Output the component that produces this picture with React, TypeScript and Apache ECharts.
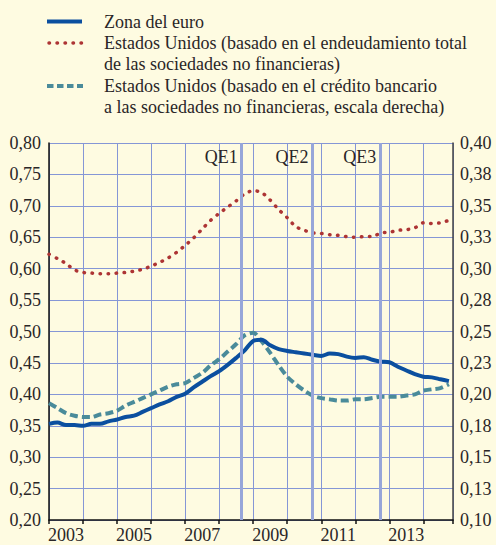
import React, { useEffect, useRef } from "react";
import * as echarts from "echarts";

// Decimal year of each quarter
const period = [
  2003.0, 2003.25, 2003.5, 2003.75,
  2004.0, 2004.25, 2004.5, 2004.75,
  2005.0, 2005.25, 2005.5, 2005.75,
  2006.0, 2006.25, 2006.5, 2006.75,
  2007.0, 2007.25, 2007.5, 2007.75,
  2008.0, 2008.25, 2008.5, 2008.75,
  2009.0, 2009.25, 2009.5, 2009.75,
  2010.0, 2010.25, 2010.5, 2010.75,
  2011.0, 2011.25, 2011.5, 2011.75,
  2012.0, 2012.25, 2012.5, 2012.75,
  2013.0, 2013.25, 2013.5, 2013.75,
  2014.0, 2014.25, 2014.5, 2014.75,
];

// Zona del euro (left scale)
const euroArea = [
  0.353, 0.355, 0.351, 0.351,
  0.350, 0.353, 0.353, 0.357,
  0.360, 0.364, 0.366, 0.372,
  0.378, 0.384, 0.389, 0.396,
  0.401, 0.411, 0.420, 0.429,
  0.437, 0.447, 0.458, 0.470,
  0.485, 0.487, 0.478, 0.472,
  0.469, 0.467, 0.465, 0.463,
  0.461, 0.465, 0.464, 0.460,
  0.458, 0.459, 0.455, 0.452,
  0.451, 0.444, 0.438, 0.432,
  0.428, 0.427, 0.424, 0.421,
];

// Estados Unidos, endeudamiento total (left scale)
const usTotalDebt = [
  0.623, 0.616, 0.608, 0.598,
  0.594, 0.593, 0.592, 0.592,
  0.593, 0.594, 0.596, 0.599,
  0.604, 0.610, 0.617, 0.626,
  0.637, 0.649, 0.663, 0.677,
  0.688, 0.698, 0.708, 0.719,
  0.724, 0.721, 0.709, 0.694,
  0.681, 0.667, 0.661, 0.657,
  0.656, 0.654, 0.653, 0.651,
  0.650, 0.651, 0.651, 0.657,
  0.658, 0.661, 0.662, 0.665,
  0.673, 0.672, 0.673, 0.677,
];

// Estados Unidos, crédito bancario (right scale)
const usBankCredit = [
  0.193, 0.189, 0.185, 0.183,
  0.182, 0.182, 0.184, 0.185,
  0.187, 0.191, 0.194, 0.197,
  0.200, 0.203, 0.206, 0.208,
  0.209, 0.213, 0.217, 0.223,
  0.228, 0.234, 0.240, 0.247,
  0.249, 0.242, 0.233, 0.223,
  0.214, 0.208, 0.203, 0.199,
  0.197, 0.196, 0.195, 0.195,
  0.196, 0.196, 0.197, 0.198,
  0.198, 0.198, 0.199, 0.200,
  0.203, 0.204, 0.205, 0.208,
];

const xLabelYears = [2003, 2005, 2007, 2009, 2011, 2013];
const rightTickLabels = [
  "0,10", "0,13", "0,15", "0,18", "0,20", "0,23", "0,25",
  "0,28", "0,30", "0,33", "0,35", "0,38", "0,40",
];

const qeNames = ["QE1", "QE2", "QE3"];
const qeDates = [2008.66, 2010.74, 2012.73];
const qeLabelLevel = 0.777;

const legendLines = [
  "Zona del euro",
  "Estados Unidos (basado en el endeudamiento total",
  "de las sociedades no financieras)",
  "Estados Unidos (basado en el crédito bancario",
  "a las sociedades no financieras, escala derecha)",
];

const FONT = "'Liberation Serif', 'Times New Roman', serif";
const TEXT = "#2a2627";
const BLUE = "#0b4f9f";
const RED = "#ad3434";
const TEAL = "#4a8b9a";
const GRID = "#8596d6";
const QE = "#97a6d9";
const BG = "#fefbe1";

export default function App() {
  const ref = useRef<HTMLDivElement>(null);

  useEffect(() => {
    document.body.style.margin = "0";
    document.body.style.background = BG;
    const chart = echarts.init(ref.current!, null, { renderer: "svg" });

    const pairs = (vals: number[]) => vals.map((v, i) => [period[i], v]);
    const legendYs = [21.5, 43, 63.5, 86, 107];

    chart.setOption({
      animation: false,
      backgroundColor: BG,
      grid: { left: 49, right: 43, top: 143, bottom: 25, containLabel: false },
      xAxis: {
        type: "value",
        min: 2003,
        max: 2014.87,
        interval: 1,
        axisLine: { show: true, lineStyle: { color: "#111", width: 1.5 } },
        axisTick: { show: true, inside: false, length: 4, lineStyle: { color: "#111", width: 1.5 } },
        splitLine: { show: true, lineStyle: { color: GRID, width: 1 } },
        axisLabel: {
          fontFamily: FONT,
          fontSize: 18,
          color: TEXT,
          margin: 6,
          padding: [0, 0, 0, 34],
          formatter: (v: number) =>
            xLabelYears.includes(Math.round(v)) ? String(Math.round(v)) : "",
        },
      },
      yAxis: [
        {
          type: "value",
          min: 0.2,
          max: 0.8,
          interval: 0.05,
          position: "left",
          axisLine: { show: true, lineStyle: { color: "#111", width: 1.5 } },
          axisTick: { show: false },
          splitLine: { show: true, lineStyle: { color: GRID, width: 1 } },
          axisLabel: {
            fontFamily: FONT,
            fontSize: 18,
            color: TEXT,
            margin: 8,
            formatter: (v: number) => v.toFixed(2).replace(".", ","),
          },
        },
        {
          type: "value",
          min: 0.1,
          max: 0.4,
          interval: 0.025,
          position: "right",
          axisLine: { show: true, lineStyle: { color: "#444", width: 1.5 } },
          axisTick: { show: false },
          splitLine: { show: false },
          axisLabel: {
            fontFamily: FONT,
            fontSize: 18,
            color: TEXT,
            margin: 7,
            formatter: (v: number) => rightTickLabels[Math.round((v - 0.1) / 0.025)] ?? "",
          },
        },
      ],
      series: [
        {
          name: "QE",
          type: "line",
          data: [],
          z: 1,
          silent: true,
          markLine: {
            silent: true,
            symbol: ["none", "none"],
            label: { show: false },
            lineStyle: { color: QE, width: 3, type: "solid" },
            data: qeDates.map((d) => ({ xAxis: d })),
          },
          markPoint: {
            silent: true,
            symbol: "circle",
            symbolSize: 0,
            data: qeDates.map((d, i) => ({
              coord: [d, qeLabelLevel],
              label: {
                show: true,
                position: "left",
                distance: 4,
                formatter: qeNames[i],
                fontFamily: FONT,
                fontSize: 18,
                color: TEXT,
              },
            })),
          },
        },
        {
          name: "Estados Unidos (basado en el endeudamiento total de las sociedades no financieras)",
          type: "line",
          yAxisIndex: 0,
          data: pairs(usTotalDebt),
          showSymbol: false,
          smooth: 0.3,
          lineStyle: { color: RED, width: 3.5, type: [0.5, 7.5], cap: "round" },
          z: 3,
        },
        {
          name: "Estados Unidos (basado en el crédito bancario a las sociedades no financieras, escala derecha)",
          type: "line",
          yAxisIndex: 1,
          data: pairs(usBankCredit),
          showSymbol: false,
          smooth: 0.3,
          lineStyle: { color: TEAL, width: 4, type: [8, 4] },
          z: 3,
        },
        {
          name: "Zona del euro",
          type: "line",
          yAxisIndex: 0,
          data: pairs(euroArea),
          showSymbol: false,
          smooth: 0.3,
          lineStyle: { color: BLUE, width: 4 },
          z: 4,
        },
      ],
      graphic: [
        {
          type: "line",
          shape: { x1: 47, y1: 21.5, x2: 82, y2: 21.5 },
          style: { stroke: BLUE, lineWidth: 4 },
        },
        {
          type: "line",
          shape: { x1: 49, y1: 43, x2: 82, y2: 43 },
          style: { stroke: RED, lineWidth: 3.5, lineDash: [0.5, 7.5], lineCap: "round" },
        },
        {
          type: "line",
          shape: { x1: 47, y1: 86, x2: 83, y2: 86 },
          style: { stroke: TEAL, lineWidth: 4, lineDash: [6.5, 3.5] },
        },
        ...legendLines.map((t, i) => ({
          type: "text",
          x: 104,
          y: legendYs[i],
          style: {
            text: t,
            fontFamily: FONT,
            fontSize: 18,
            fill: TEXT,
            verticalAlign: "middle",
            align: "left",
          },
        })),
      ],
    });

    return () => chart.dispose();
  }, []);

  return <div ref={ref} style={{ width: 496, height: 545 }} />;
}
